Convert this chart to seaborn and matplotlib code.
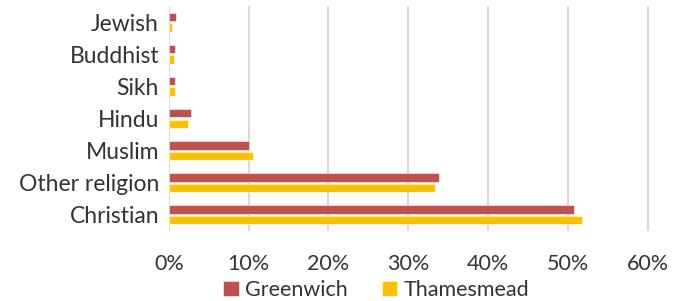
import matplotlib
matplotlib.use("Agg")
import matplotlib.pyplot as plt
import pandas as pd
import seaborn as sns
from matplotlib.ticker import PercentFormatter

# Data (percent of population)
religions = ["Jewish", "Buddhist", "Sikh", "Hindu", "Muslim", "Other religion", "Christian"]
greenwich = [0.9, 0.8, 0.8, 2.8, 10.0, 33.8, 50.8]
thamesmead = [0.4, 0.6, 0.8, 2.4, 10.5, 33.3, 51.8]
areas = ["Greenwich", "Thamesmead"]
ticks = [0, 10, 20, 30, 40, 50, 60]

df = pd.DataFrame({
    "religion": religions * 2,
    "area": [areas[0]] * len(religions) + [areas[1]] * len(religions),
    "value": greenwich + thamesmead,
})

sns.set_style("white")
plt.rcParams["font.family"] = ["Lato", "DejaVu Sans"]
text_color = "#333333"

fig, ax = plt.subplots(figsize=(6.86, 3.01), dpi=100)
fig.subplots_adjust(left=0.246, right=0.950, top=0.98, bottom=0.233)

sns.barplot(data=df, y="religion", x="value", hue="area", order=religions,
            hue_order=areas, palette=["#C0504D", "#FFC000"], saturation=1,
            orient="h", width=0.66, gap=0.2, edgecolor="white", linewidth=0.4,
            ax=ax)

ax.set_xlim(0, 60.5)
ax.set_xticks(ticks)
ax.xaxis.set_major_formatter(PercentFormatter(decimals=0))
ax.grid(axis="x", color="#d9d9d9", linewidth=1.5)
ax.set_axisbelow(True)
for s in ax.spines.values():
    s.set_visible(False)
ax.tick_params(axis="both", length=0, labelsize=15.5, colors=text_color)
ax.tick_params(axis="x", pad=17)
ax.tick_params(axis="y", pad=7, labelsize=16.5)
ax.set_xlabel("")
ax.set_ylabel("")

ax.legend(loc="center", bbox_to_anchor=(0.43, -0.262), ncol=2, frameon=False,
          fontsize=15.5, handlelength=0.7, handleheight=0.7, handletextpad=0.3,
          columnspacing=1.6, labelcolor=text_color, borderaxespad=0)

fig.savefig("out.png", dpi=100)
